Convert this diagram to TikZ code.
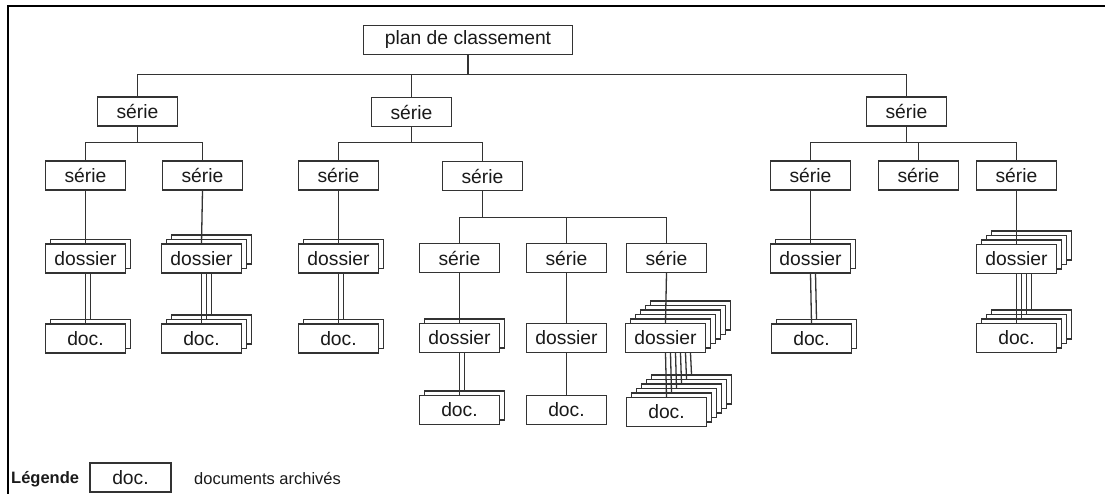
\documentclass[tikz,border=0pt]{standalone}
\usepackage{fontspec}
\setmainfont{Liberation Sans}
\definecolor{boxc}{HTML}{333333}
\definecolor{linec}{HTML}{333333}
\definecolor{txt}{HTML}{1A1A1A}
\newcommand\stk[5]{% name, x, y, last index, text
  \ifnum#4>0
    \foreach \i in {#4,...,1}{\node[box] (#1\i) at ({#2+5*\i},{#3-4.5*\i}) {};}
  \fi
  \node[box] (#10) at (#2,#3) {#5};}
\newcommand\lnk[3]{% dossier name, doc name, last index
  \foreach \i in {0,...,#3}{\draw[link] (#1\i.south |- #10.south) -- (#2\i.north);}}
\begin{document}
\begin{tikzpicture}[x=1pt,y=-1pt,
  box/.style={draw=boxc, line width=1.2pt, fill=white, minimum width=80pt, minimum height=29pt, inner sep=0pt, font=\fontsize{19.3}{22}\selectfont, text=txt},
  link/.style={draw=linec, line width=1.3pt},
  frame/.style={line width=2.6pt, black}]
\useasboundingbox (0,0) rectangle (1105,494);
\draw[frame] (8,494) -- (8,6) -- (1105,6);
\coordinate (bus1) at (0,74.5);
\coordinate (bus2) at (0,142.5);
\coordinate (bus3) at (0,217.5);
% top
\node[box, minimum width=209pt] (plan) at (468,40) {plan de classement};
\node[box] (S1) at (137.5,111.5) {série};
\node[box] (S2) at (411.5,112) {série};
\node[box] (S3) at (906.5,111.5) {série};
% level 2
\node[box] (A1) at (85.5,175.5) {série};
\node[box] (A2) at (202.5,175.5) {série};
\node[box] (B1) at (338.5,175.5) {série};
\node[box] (B2) at (482.5,176) {série};
\node[box] (D1) at (810.5,175.5) {série};
\node[box] (D2) at (918.5,175.5) {série};
\node[box] (D3) at (1016.5,175.5) {série};
% level 3
\node[box] (C1) at (459.5,258) {série};
\node[box] (C2) at (566.5,258) {série};
\node[box] (C3) at (666.5,258) {série};
% dossiers and docs
\stk{a1d}{85.5}{258.5}{1}{dossier}
\stk{a1c}{85.5}{338.5}{1}{doc.}
\stk{a2d}{201.5}{258.5}{2}{dossier}
\stk{a2c}{201.5}{338.5}{2}{doc.}
\stk{b1d}{338.5}{258.5}{1}{dossier}
\stk{b1c}{338.5}{338.5}{1}{doc.}
\stk{d1d}{810.5}{258.5}{1}{dossier}
\stk{d1c}{811.5}{338.5}{1}{doc.}
\stk{d3d}{1016.5}{259}{3}{dossier}
\stk{d3c}{1016.5}{338}{3}{doc.}
\stk{c1d}{459.5}{338}{1}{dossier}
\stk{c1c}{459.5}{410}{1}{doc.}
\stk{c2d}{566.5}{338}{0}{dossier}
\stk{c2c}{566.5}{410}{0}{doc.}
\stk{c3d}{665.5}{338}{5}{dossier}
\stk{c3c}{666.5}{412}{5}{doc.}
% tree connectors
\draw[link] (plan.south) -- (plan.south |- bus1);
\draw[link] (S1.north) -- (S1.north |- bus1) -- (S3.north |- bus1) -- (S3.north);
\draw[link] (S2.north) -- (S2.north |- bus1);
\draw[link] (S1.south) -- (S1.south |- bus2);
\draw[link] (A1.north) -- (A1.north |- bus2) -- (A2.north |- bus2) -- (A2.north);
\draw[link] (S2.south) -- (S2.south |- bus2);
\draw[link] (B1.north) -- (B1.north |- bus2) -- (B2.north |- bus2) -- (B2.north);
\draw[link] (S3.south) -- (S3.south |- bus2);
\draw[link] (D1.north) -- (D1.north |- bus2) -- (D3.north |- bus2) -- (D3.north);
\draw[link] (D2.north) -- (D2.north |- bus2);
\draw[link] (B2.south) -- (B2.south |- bus3);
\draw[link] (C1.north) -- (C1.north |- bus3) -- (C3.north |- bus3) -- (C3.north);
\draw[link] (C2.north) -- (C2.north |- bus3);
% série to dossier
\draw[link] (A1.south) -- (a1d0.north);
\draw[link] (A2.south) -- (a2d0.north);
\draw[link] (B1.south) -- (b1d0.north);
\draw[link] (D1.south) -- (d1d0.north);
\draw[link] (D3.south) -- (d3d0.north);
\draw[link] (C1.south) -- (c1d0.north);
\draw[link] (C2.south) -- (c2d0.north);
\draw[link] (C3.south) -- (c3d0.north);
% dossier to doc
\lnk{a1d}{a1c}{1}
\lnk{a2d}{a2c}{2}
\lnk{b1d}{b1c}{1}
\lnk{d1d}{d1c}{1}
\lnk{d3d}{d3c}{3}
\lnk{c1d}{c1c}{1}
\lnk{c2d}{c2c}{0}
\lnk{c3d}{c3c}{5}
% legend
\node[anchor=west, font=\fontsize{16.5}{19}\selectfont\bfseries, text=txt, inner sep=0pt] (leg) at (11,479) {Légende};
\node[box, minimum width=81pt] (legbox) at (130.5,477.5) {doc.};
\node[anchor=west, font=\fontsize{16.5}{19}\selectfont, text=txt, inner sep=0pt] (legtxt) at (194,479) {documents archivés};
\end{tikzpicture}
\end{document}
